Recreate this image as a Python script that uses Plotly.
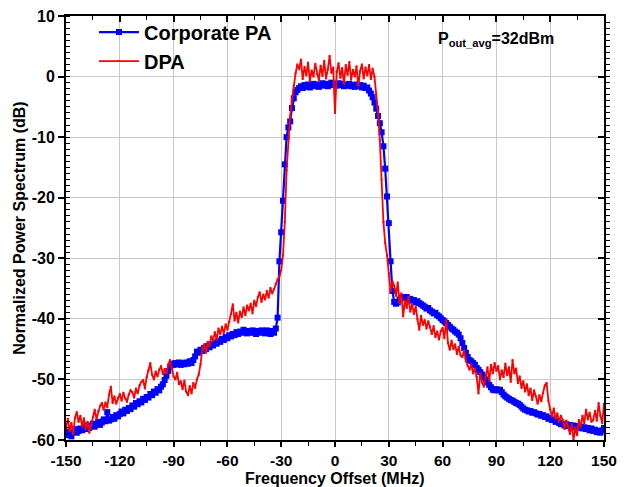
import numpy as np
import plotly.graph_objects as go

# Frequency offsets (MHz)
freq = list(range(-150, 151))

# Corporate PA spectrum (dB), one value per MHz from -150 to 150
corporate_pa = [
    -59.2, -58.6, -58.9, -59.4, -58.7, -58.2, -58.8, -58.5, -58.1, -58.4,
    -57.9, -58.2, -57.6, -58.0, -57.7, -57.3, -57.8, -57.4, -57.0, -57.5,
    -57.1, -56.6, -56.9, -55.4, -56.8, -56.6, -56.2, -56.5, -55.9, -56.1,
    -55.7, -55.3, -55.6, -55.0, -55.2, -54.7, -54.9, -54.3, -54.5, -53.9,
    -54.1, -53.6, -53.8, -53.2, -53.4, -52.9, -53.0, -52.4, -52.6, -52.0,
    -52.2, -51.6, -51.8, -51.2, -50.8, -50.1, -49.4, -48.6, -47.9, -47.4,
    -47.6, -47.3, -47.5, -47.2, -47.6, -47.3, -47.5, -47.2, -47.4, -47.0,
    -47.3, -46.8, -46.2, -45.4, -45.6, -45.1, -45.3, -44.8, -45.0, -44.5,
    -44.7, -44.2, -44.4, -43.9, -44.1, -43.6, -43.8, -43.3, -43.5, -43.0,
    -43.2, -42.7, -42.9, -42.5, -42.7, -42.2, -42.5, -42.1, -42.3, -41.8,
    -42.1, -42.4, -42.0, -42.3, -41.9, -42.2, -42.5, -42.0, -42.3, -41.9,
    -42.2, -42.4, -41.9, -42.2, -42.5, -42.0, -42.3, -41.6, -39.8, -30.5,
    -25.7, -20.5, -14.5, -10.0, -8.4, -7.4, -5.2, -3.6, -2.6, -2.2,
    -1.9, -1.6, -1.9, -1.4, -1.7, -1.3, -1.8, -1.5, -1.2, -1.6,
    -1.3, -1.7, -1.4, -1.1, -1.5, -1.2, -1.6, -1.3, -1.0, -1.4,
    -1.2, -1.5, -1.1, -1.4, -1.2, -1.6, -1.3, -1.5, -1.2, -1.6,
    -1.4, -1.7, -1.3, -1.6, -1.4, -1.8, -1.5, -1.9, -1.8, -2.3,
    -2.8, -3.4, -4.3, -5.3, -6.5, -7.7, -9.2, -11.5, -15.2, -19.8,
    -24.2, -30.5, -35.4, -37.2, -37.5, -37.3, -36.8, -36.5, -36.4, -36.6,
    -36.4, -36.8, -36.7, -37.0, -36.9, -37.3, -37.1, -37.4, -37.6, -37.8,
    -38.0, -38.3, -38.2, -38.6, -38.8, -39.1, -39.0, -39.4, -39.6, -39.9,
    -40.2, -40.4, -40.7, -41.0, -41.3, -41.6, -41.8, -42.1, -42.3, -42.6,
    -43.2, -44.0, -44.8, -45.6, -46.3, -46.8, -47.0, -47.3, -47.6, -48.1,
    -48.4, -48.8, -49.2, -49.6, -50.0, -50.5, -50.9, -51.3, -51.7, -51.8,
    -51.6, -51.8, -51.7, -52.1, -52.5, -52.8, -53.0, -53.2, -53.4, -53.5,
    -53.7, -53.9, -54.0, -54.2, -54.5, -54.8, -55.0, -55.1, -55.3, -55.2,
    -55.5, -55.4, -55.6, -55.8, -55.7, -56.0, -55.9, -56.2, -56.1, -56.5,
    -56.4, -56.7, -56.6, -57.0, -56.9, -57.2, -57.4, -57.3, -57.6, -57.4,
    -57.7, -57.5, -57.8, -57.6, -57.9, -57.7, -58.0, -57.8, -58.1, -57.9,
    -58.2, -58.0, -58.4, -58.1, -58.5, -58.3, -58.7, -58.5, -58.8, -58.4,
    -58.0,
]

# DPA spectrum (dB), one value per MHz from -150 to 150
dpa = [
    -58.0, -56.5, -58.5, -57.2, -59.0, -56.3, -55.4, -57.0, -56.0, -57.8,
    -56.4, -58.2, -57.0, -58.8, -57.5, -56.2, -55.0, -56.5, -55.2, -54.4,
    -53.9, -55.0, -53.8, -54.6, -52.5, -51.2, -53.9, -52.8, -54.0, -53.0,
    -52.4, -53.5, -52.2, -53.1, -53.7, -52.5, -51.8, -52.1, -53.0, -51.5,
    -52.3, -51.0, -50.4, -50.1, -51.5, -49.6, -48.5, -47.3, -49.2, -50.0,
    -48.7, -49.5, -48.4, -47.8, -49.1, -48.3, -49.0, -47.6, -46.8, -48.2,
    -49.5, -50.0, -48.9, -50.8, -50.3, -51.6, -50.2, -52.0, -52.6, -51.1,
    -52.3, -50.6, -51.4, -50.0, -49.2, -47.5, -45.0, -44.2, -45.6, -43.8,
    -44.5, -42.9, -43.6, -42.2, -43.4, -41.6, -42.5, -41.3, -42.4, -40.9,
    -41.8, -40.5, -39.2, -37.6, -40.3, -39.0, -40.6, -38.8, -39.7, -38.1,
    -39.4, -37.8, -38.6, -37.5, -39.1, -37.0, -37.9, -36.4, -35.6, -37.2,
    -36.0, -36.8, -35.4, -36.5, -34.9, -35.8, -35.1, -34.2, -33.5, -33.0,
    -32.0, -29.5, -24.0, -15.5, -10.0, -6.5, -3.8, -1.5, 0.5, 2.0,
    1.2, 2.8, -0.4, 1.6, 0.2, 2.3, -0.8, 1.0, 0.0, 2.1,
    0.4, -0.6, 1.8, 0.1, 2.6, -0.3, 1.2, 3.4, 0.6, 1.5,
    -6.0, 0.8, 2.2, -0.2, 1.4, -1.2, 1.9, 0.3, 2.4, -0.5,
    1.1, 0.0, 1.7, -1.5, 0.9, 2.0, -0.3, 1.5, 0.2, 1.9,
    -0.4, 1.3, 0.0, -2.8, -6.0, -10.5, -17.0, -24.0, -27.5, -29.5,
    -32.5, -35.5, -33.8, -34.5, -36.2, -34.0, -37.4, -35.8, -39.6, -37.0,
    -38.2, -36.4, -38.8, -37.6, -39.2, -38.0, -40.1, -41.8, -39.5, -41.0,
    -40.2, -41.6, -40.4, -41.3, -42.5, -41.2, -43.0, -42.1, -43.4, -42.0,
    -41.5, -43.2, -40.2, -44.0, -45.1, -43.6, -45.0, -44.2, -45.8, -44.6,
    -46.0, -46.3, -45.2, -47.0, -47.8, -48.4, -47.5, -49.0, -48.2, -49.6,
    -52.3, -49.0, -50.5, -51.2, -49.5, -48.0, -50.2, -47.6, -49.0, -47.3,
    -48.6, -47.8, -50.0, -48.5, -49.6, -47.4, -49.3, -48.0, -50.4, -46.8,
    -49.0, -48.2, -50.6, -49.5, -51.4, -50.3, -52.0, -50.8, -52.6, -51.5,
    -53.4, -51.8, -52.8, -54.0, -52.6, -53.6, -52.2, -51.0, -50.6, -53.5,
    -55.0, -56.1, -54.8, -56.5, -55.6, -57.0, -56.0, -56.7, -58.2, -56.8,
    -57.8, -59.0, -57.4, -60.0, -58.0, -59.2, -56.7, -57.8, -56.0, -57.2,
    -55.0, -56.6, -55.5, -57.0, -56.7, -55.2, -56.8, -53.9, -56.0, -57.2,
    -54.0,
]

x_ticks = [-150, -120, -90, -60, -30, 0, 30, 60, 90, 120, 150]
y_ticks = [-60, -50, -40, -30, -20, -10, 0, 10]
x_range = [-150, 150]
y_range = [-60, 10]

FONT = "Liberation Sans, Arial, Helvetica, sans-serif"
GRID = "#c8c8c8"

fig = go.Figure()
fig.add_trace(go.Scatter(
    x=freq, y=corporate_pa, name="Corporate PA", mode="lines+markers",
    line=dict(color="#0000ff", width=2.2),
    marker=dict(symbol="square", size=6, color="#0000ff"),
    xaxis="x", yaxis="y",
))
fig.add_trace(go.Scatter(
    x=freq, y=dpa, name="DPA", mode="lines+markers",
    line=dict(color="#ff0000", width=1.8),
    marker=dict(symbol="square", size=2, color="#ff0000"),
    xaxis="x", yaxis="y",
))
# dummy trace so the mirrored top/right tick axes are drawn
fig.add_trace(go.Scatter(
    x=x_range, y=y_range, mode="markers", marker=dict(opacity=0),
    showlegend=False, hoverinfo="skip", xaxis="x2", yaxis="y2",
))

fig.add_annotation(
    x=90, y=6.2, xref="x", yref="y",
    text="P<sub>out_avg</sub>=32dBm", showarrow=False,
    font=dict(family=FONT, size=16, color="black", weight="bold"),
)
# x-axis title placed just under the tick labels
fig.add_annotation(
    x=0.5, y=-0.091, xref="paper", yref="paper",
    xanchor="center", yanchor="middle", borderpad=0,
    text="Frequency Offset (MHz)", showarrow=False,
    font=dict(family=FONT, size=16, color="black", weight="bold"),
)

fig.update_layout(
    width=632, height=487,
    margin=dict(l=66, r=28, t=16, b=47),
    paper_bgcolor="white", plot_bgcolor="white",
    font=dict(family=FONT, color="black"),
    showlegend=True,
    legend=dict(
        x=0.052, y=1.008, xanchor="left", yanchor="top",
        bgcolor="rgba(0,0,0,0)", borderwidth=0,
        font=dict(family=FONT, size=20, color="black", weight="bold"),
        itemwidth=40, tracegroupgap=0,
    ),
    xaxis=dict(
        range=x_range, tickvals=x_ticks, automargin=False,
        ticktext=[str(v) for v in x_ticks],
        showgrid=True, gridcolor=GRID, gridwidth=1,
        zeroline=False, showline=True, linecolor="black", linewidth=2,
        ticks="outside", ticklen=5, tickwidth=1.5, tickcolor="black",
        minor=dict(dtick=15, tick0=0, ticks="outside", ticklen=4,
                   tickcolor="black", tickwidth=1, showgrid=False),
        tickfont=dict(family=FONT, size=15.5, color="black", weight="bold"),
    ),
    yaxis=dict(
        range=y_range, tickvals=y_ticks, automargin=False,
        ticktext=[str(v) for v in y_ticks],
        showgrid=True, gridcolor=GRID, gridwidth=1,
        zeroline=False, showline=True, linecolor="black", linewidth=2,
        ticks="outside", ticklen=6, tickwidth=1.5, tickcolor="black",
        minor=dict(dtick=1, tick0=0, ticks="inside", ticklen=4,
                   tickcolor="black", tickwidth=1, showgrid=False),
        tickfont=dict(family=FONT, size=16, color="black", weight="bold"),
        title=dict(text="Normalized Power Spectrum (dB)", standoff=2,
                   font=dict(family=FONT, size=16, color="black", weight="bold")),
    ),
    xaxis2=dict(
        range=x_range, overlaying="x", side="top", anchor="y2", automargin=False,
        tickvals=x_ticks, showticklabels=False, showgrid=False, zeroline=False,
        showline=True, linecolor="black", linewidth=2,
        ticks="inside", ticklen=6, tickwidth=1.5, tickcolor="black",
        minor=dict(dtick=15, tick0=0, ticks="inside", ticklen=4,
                   tickcolor="black", tickwidth=1),
    ),
    yaxis2=dict(
        range=y_range, overlaying="y", side="right", anchor="x2", automargin=False,
        tickvals=y_ticks, showticklabels=False, showgrid=False, zeroline=False,
        showline=True, linecolor="black", linewidth=2,
        ticks="inside", ticklen=6, tickwidth=1.5, tickcolor="black",
        minor=dict(dtick=1, tick0=0, ticks="outside", ticklen=4,
                   tickcolor="black", tickwidth=1),
    ),
)

fig.write_html("out.html")
